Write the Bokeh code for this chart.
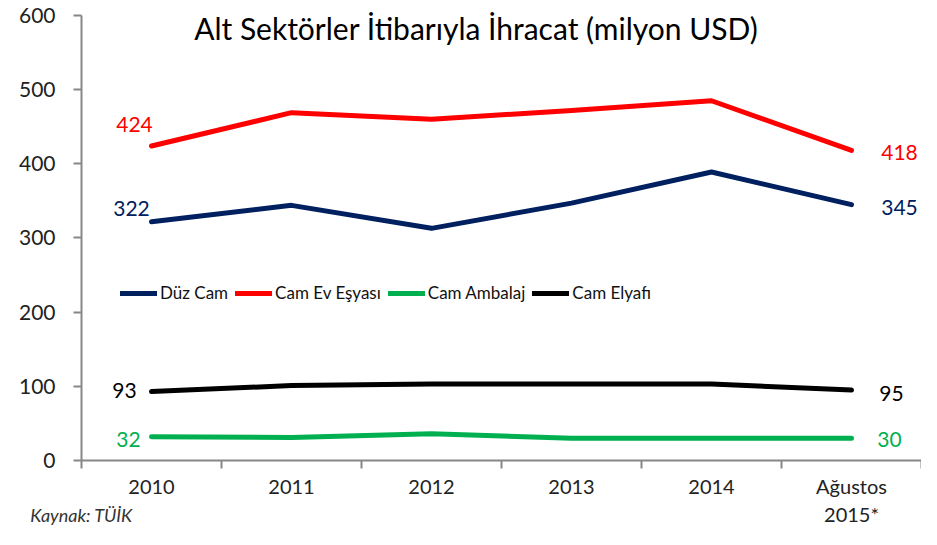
from bokeh.plotting import figure
from bokeh.models import Range1d, FixedTicker, Legend, LegendItem, Label
from bokeh.core.properties import value
from bokeh.embed import file_html
from bokeh.resources import INLINE

# ---- data ----
categories = ["2010", "2011", "2012", "2013", "2014", "Ağustos\n2015*"]
duz_cam = [322, 344, 313, 347, 389, 345]
cam_ev_esyasi = [424, 469, 460, 472, 485, 418]
cam_ambalaj = [32, 31, 36, 30, 30, 30]
cam_elyafi = [93, 101, 103, 103, 103, 95]
series_names = ["Düz Cam", "Cam Ev Eşyası", "Cam Ambalaj", "Cam Elyafı"]
y_ticks = [0, 100, 200, 300, 400, 500, 600]
title_text = "Alt Sektörler İtibarıyla İhracat (milyon USD)"
source_text = "Kaynak: TÜİK"

# ---- styles ----
colors = ["#002060", "#FF0000", "#00B050", "#000000"]
FONT = "Lato"
# label pixel offsets (first point, last point) per series
first_off = [(-20, -13), (-17, -22), (-23, 3), (-27, -1)]
last_off = [(48, 3), (48, 2), (38, 1), (40, 3)]

series = [duz_cam, cam_ev_esyasi, cam_ambalaj, cam_elyafi]
xs = [i + 0.5 for i in range(len(categories))]

W, H = 921, 529
TOP_PAD = 15          # px of headroom above the 600 tick
BOTTOM = 68           # px reserved below the plot frame
frame_h = H - BOTTOM
y_max = y_ticks[-1]
px_per_unit = (frame_h - TOP_PAD) / y_max
y_end = y_max + TOP_PAD / px_per_unit

p = figure(width=W, height=H, output_backend="svg", toolbar_location=None,
           x_range=Range1d(0, len(categories)), y_range=Range1d(0, y_end),
           min_border_left=81, min_border_right=0, min_border_top=0, min_border_bottom=BOTTOM)
p.outline_line_color = None
p.xgrid.visible = False
p.ygrid.visible = False
p.background_fill_color = "white"
p.border_fill_color = "white"

axis_color = "#878787"
# y axis
yax = p.yaxis[0]
yax.ticker = FixedTicker(ticks=y_ticks)
yax.bounds = (0, y_max)
yax.axis_line_color = axis_color
yax.axis_line_width = 2
yax.major_tick_line_color = axis_color
yax.major_tick_line_width = 2
yax.major_tick_out = 8
yax.major_tick_in = 0
yax.minor_tick_line_color = None
yax.major_label_text_font = FONT
yax.major_label_text_font_size = "21px"
yax.major_label_text_color = "#222222"
yax.major_label_standoff = 18

# x axis
xax = p.xaxis[0]
xax.ticker = FixedTicker(ticks=xs, minor_ticks=list(range(len(categories) + 1)))
xax.major_label_overrides = {x: c for x, c in zip(xs, categories)}
xax.axis_line_color = axis_color
xax.axis_line_width = 2
xax.major_tick_line_color = None
xax.minor_tick_line_color = axis_color
xax.minor_tick_line_width = 2
xax.minor_tick_out = 8
xax.minor_tick_in = 0
xax.major_label_text_font = FONT
xax.major_label_text_font_size = "20px"
xax.major_label_text_color = "#222222"
xax.major_label_standoff = 5
# source note drawn as the x axis label, tucked under the first category
xax.axis_label = source_text
xax.axis_label_text_font = FONT
xax.axis_label_text_font_size = "18px"
xax.axis_label_text_font_style = "italic"
xax.axis_label_text_color = "#333333"
xax.axis_label_standoff = -25
try:
    xax.axis_label_align = "start"
except Exception:
    pass

items = []
for name, vals, col, fo, lo in zip(series_names, series, colors, first_off, last_off):
    r = p.line(xs, vals, line_color=col, line_width=5, line_join="round", line_cap="round")
    items.append(LegendItem(label=name, renderers=[r]))
    p.text(x=[xs[0]], y=[vals[0]], text=[str(vals[0])], text_color=col,
           text_font=value(FONT), text_font_size="21px", text_align="center",
           text_baseline="middle", x_offset=fo[0], y_offset=fo[1])
    p.text(x=[xs[-1]], y=[vals[-1]], text=[str(vals[-1])], text_color=col,
           text_font=value(FONT), text_font_size="21px", text_align="center",
           text_baseline="middle", x_offset=lo[0], y_offset=lo[1])

legend = Legend(items=items, orientation="horizontal", location=(39, 157),
                glyph_width=37, glyph_height=20, label_standoff=3, spacing=7,
                padding=0, margin=0, border_line_color=None, background_fill_alpha=0,
                label_text_font=FONT, label_text_font_size="17px", label_text_color="#111111")
p.add_layout(legend, "center")

p.add_layout(Label(x=2.82, y=583, text=title_text, text_font=FONT, text_font_size="30px",
                   text_align="center", text_baseline="middle", text_color="#000000"))

open("out.html", "w").write(file_html(p, INLINE))
